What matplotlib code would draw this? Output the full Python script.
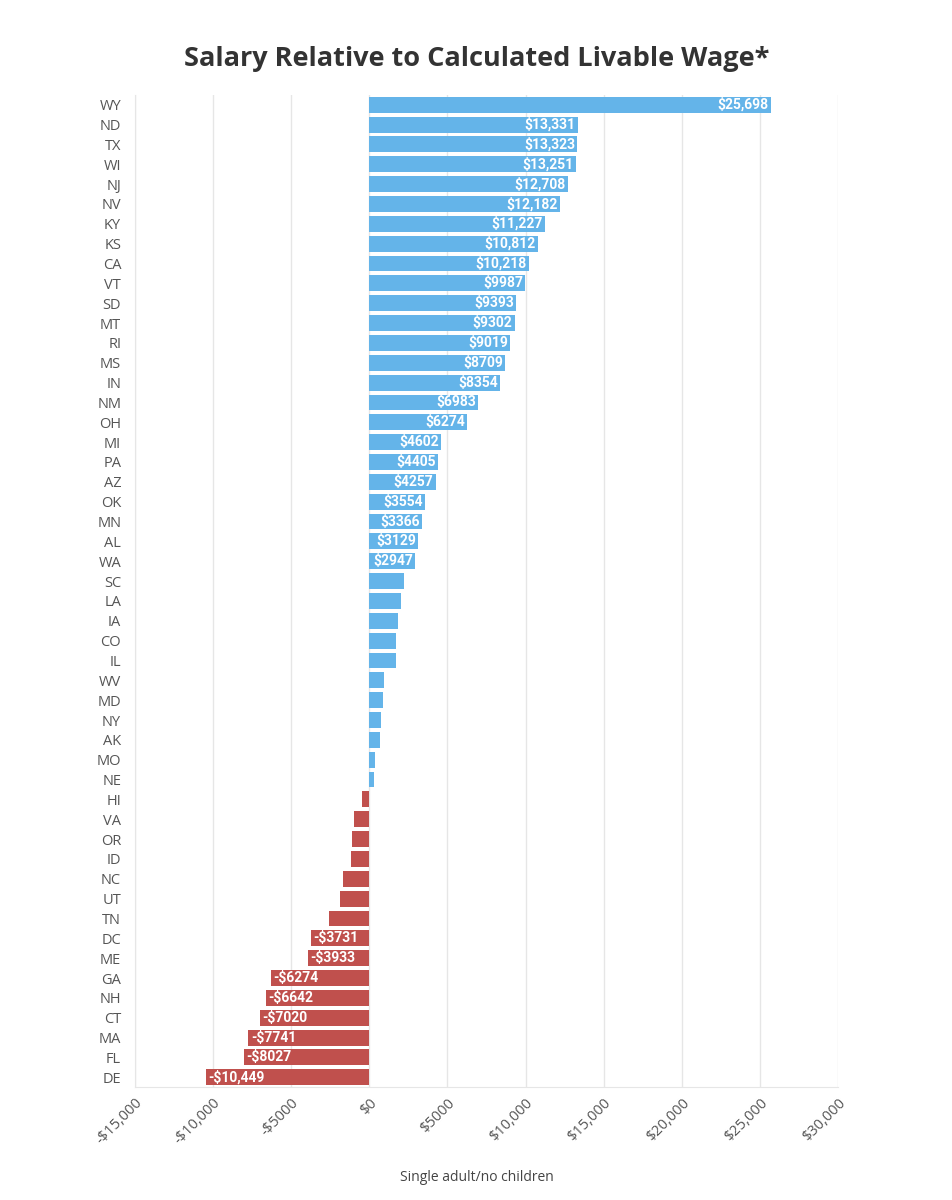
import numpy as np
import matplotlib.pyplot as plt
from matplotlib.ticker import FuncFormatter

# データ
STATES = ["WY", "ND", "TX", "WI", "NJ", "NV", "KY", "KS", "CA", "VT",
          "SD", "MT", "RI", "MS", "IN", "NM", "OH", "MI", "PA", "AZ",
          "OK", "MN", "AL", "WA", "SC", "LA", "IA", "CO", "IL", "WV",
          "MD", "NY", "AK", "MO", "NE", "HI", "VA", "OR", "ID", "NC",
          "UT", "TN", "DC", "ME", "GA", "NH", "CT", "MA", "FL", "DE"]
VALUES = [25698, 13331, 13323, 13251, 12708, 12182, 11227, 10812, 10218, 9987,
          9393, 9302, 9019, 8709, 8354, 6983, 6274, 4602, 4405, 4257,
          3554, 3366, 3129, 2947, 2200, 2030, 1810, 1730, 1690, 920,
          850, 770, 660, 380, 280, -490, -980, -1130, -1190, -1660,
          -1860, -2560, -3731, -3933, -6274, -6642, -7020, -7741, -8027, -10449]
# ラベルを表示するバー（小さい値は非表示）
SHOW_LABEL = [abs(v) >= 2900 for v in VALUES]
XTICKS = list(range(-15000, 30001, 5000))

BLUE = "#64b4e9"
RED = "#c0504d"
FILE_NAME = "out.png"


def money(x, pos=None):
    """金額の書式"""
    x = int(round(x))
    sign = "-" if x < 0 else ""
    a = abs(x)
    s = f"{a:,}" if a >= 10000 else f"{a}"
    return f"{sign}${s}"


def main():
    plt.rcParams["font.family"] = ["Open Sans", "DejaVu Sans"]
    fig = plt.figure(figsize=(9.53, 12), dpi=100)
    ax = fig.add_axes([0.1417, 0.094, 0.7376, 0.827])

    y = np.arange(len(STATES))
    colors = [BLUE if v >= 0 else RED for v in VALUES]
    ax.barh(y, VALUES, height=0.8, color=colors, zorder=3)

    # バーのラベル
    for yi, v, show in zip(y, VALUES, SHOW_LABEL):
        if not show:
            continue
        if v >= 0:
            ax.text(v - 150, yi, money(v), ha="right", va="center",
                    color="white", fontsize=10, fontweight="bold",
                    family="Roboto", zorder=4)
        else:
            ax.text(v + 150, yi, money(v), ha="left", va="center",
                    color="white", fontsize=10, fontweight="bold",
                    family="Roboto", zorder=4)

    ax.set_ylim(len(STATES) - 0.5, -0.5)
    ax.set_yticks(y)
    ax.set_yticklabels(STATES, fontsize=10.5, color="#555555")
    ax.set_xlim(-15000, 30000)
    ax.set_xticks(XTICKS)
    ax.xaxis.set_major_formatter(FuncFormatter(money))
    for lab in ax.get_xticklabels():
        lab.set_rotation(45)
        lab.set_ha("right")
        lab.set_rotation_mode("anchor")
        lab.set_color("#555555")
        lab.set_fontsize(10.5)

    ax.tick_params(axis="y", length=0, pad=10)
    ax.tick_params(axis="x", length=0, pad=6)
    ax.grid(axis="x", color="#e6e6e6", linewidth=1, zorder=0)
    for side in ["top", "right"]:
        ax.spines[side].set_visible(False)
    ax.spines["left"].set_color("#e6e6e6")
    ax.spines["bottom"].set_color("#e6e6e6")

    fig.text(0.5, 0.951, "Salary Relative to Calculated Livable Wage*",
             ha="center", va="center", fontsize=19.5, fontweight="bold",
             color="#333333")
    fig.text(0.5, 0.019, "Single adult/no children", ha="center",
             va="center", fontsize=10, color="#444444")

    fig.savefig(FILE_NAME)


if __name__ == "__main__":
    main()
